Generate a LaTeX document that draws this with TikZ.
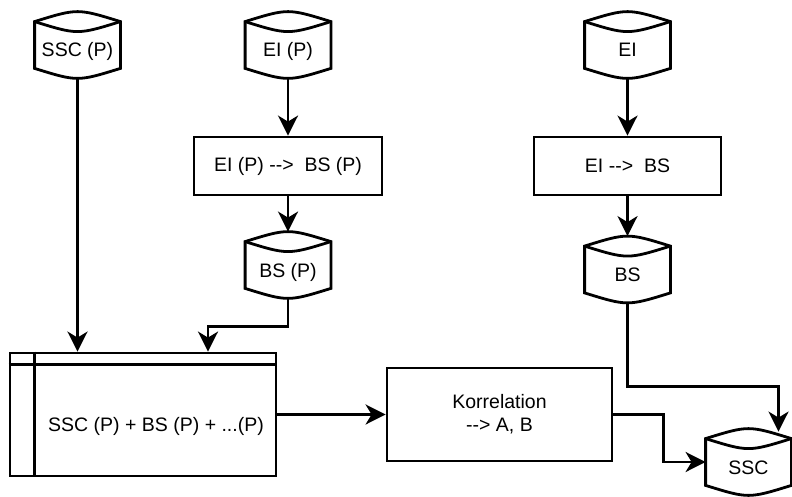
\documentclass[tikz,border=0pt]{standalone}
\usepackage{fontspec}
\setmainfont{Liberation Sans}
\usetikzlibrary{arrows.meta}

\begin{document}
\begin{tikzpicture}[x=1pt, y=-1pt, line width=2.8pt,
    every node/.style={font=\fontsize{19.5}{23}\selectfont, inner sep=0pt},
    proc/.style={draw, rectangle, minimum width=188pt, minimum height=58pt},
    store/.style={rectangle, minimum width=83pt, minimum height=64pt, text height=24pt, text depth=0pt},
    >={Stealth[length=20pt, width=20pt, inset=6pt]}]
    \useasboundingbox[fill=white] (0,0) rectangle (792,497);
    % data stores
    \node[store] (sscp) at (77.5, 45) {SSC (P)};
    \node[store] (eip) at (288, 45) {EI (P)};
    \node[store] (ei) at (627.5, 45) {EI};
    \node[store] (bsp) at (288, 265) {BS (P)};
    \node[store] (bs) at (627.5, 269.5) {BS};
    \node[store] (ssc) at (748.5, 462) {SSC};
    \foreach \n in {sscp, eip, ei, bsp, bs, ssc} {
        \draw ([yshift=-10pt]\n.north west) .. controls ([yshift=3.3pt]\n.north) .. ([yshift=-10pt]\n.north east)
            -- ([yshift=10pt]\n.south east) .. controls ([yshift=-3.3pt]\n.south) .. ([yshift=10pt]\n.south west) -- cycle;
        \draw ([yshift=-10pt]\n.north west) .. controls ([yshift=-23.3pt]\n.north) .. ([yshift=-10pt]\n.north east);
    }
    % processes
    \node[proc] (conv1) at (288, 166) {EI (P) -{}->\ \ BS (P)};
    \node[proc, minimum width=187pt] (conv2) at (627.5, 166) {EI -{}->\ \ BS};
    \node[proc, minimum width=225pt, minimum height=93pt, align=center] (korr) at (499.5, 414.5) {Korrelation\\-{}-> A, B};
    \node[proc, minimum width=266pt, minimum height=123pt] (big) at (143, 414.5) {};
    \draw ([xshift=26pt]big.north west) -- ([xshift=26pt]big.south west);
    \draw ([yshift=-13pt]big.north west) -- ([yshift=-13pt]big.north east);
    \node (bigtext) at (156, 426) {SSC (P) + BS (P) + ...(P)};
    % connectors
    \draw[->] (sscp.south) -- (sscp.south |- big.north);
    \draw[->] (eip.south) -- (conv1.north);
    \draw[->] (conv1.south) -- (bsp.north);
    \draw[->] (bsp.south) -- ++(0,28) -| ([xshift=65pt]big.north);
    \draw[->] (ei.south) -- (conv2.north);
    \draw[->] (conv2.south) -- (bs.north);
    \draw[->] (bs.south) -- ++(0,83.5) -| ([xshift=30pt,yshift=-3pt]ssc.north);
    \draw[->] (big.east) -- (korr.west);
    \draw[->] (korr.east) -- ++(50,0) |- (ssc.west);
\end{tikzpicture}
\end{document}
